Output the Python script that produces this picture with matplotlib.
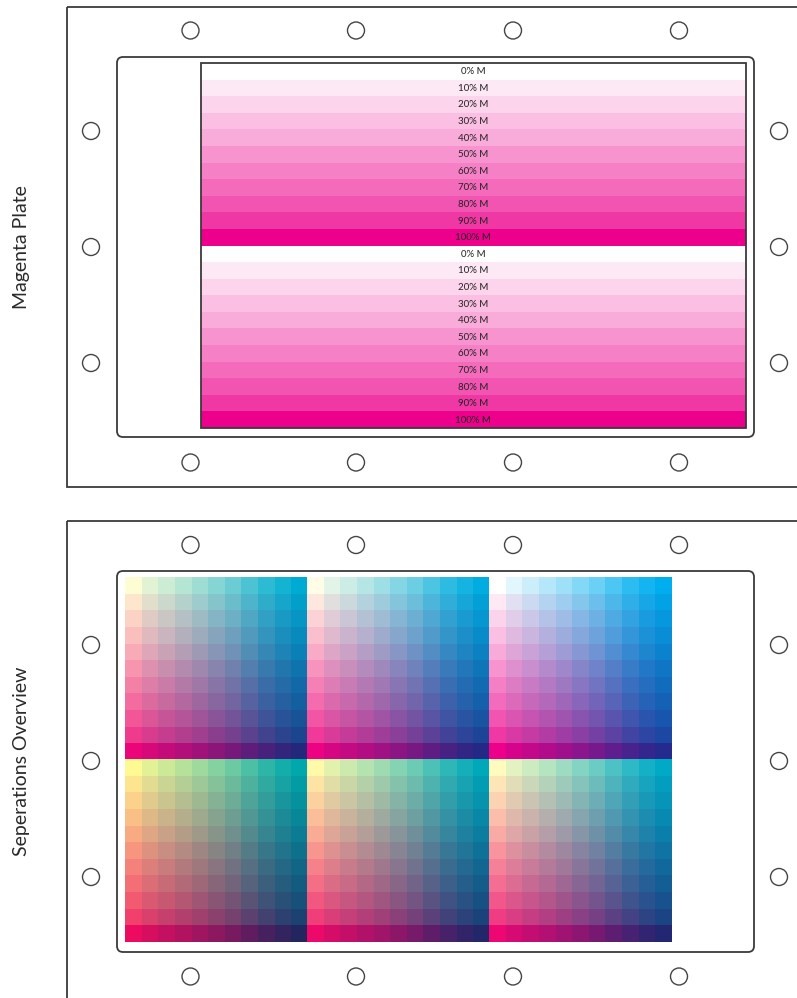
import numpy as np
import matplotlib.pyplot as plt
from matplotlib.patches import Rectangle, Circle, FancyBboxPatch

# --- data ---
plate_titles = ["Magenta Plate", "Seperations Overview"]
magenta_steps = [0, 10, 20, 30, 40, 50, 60, 70, 80, 90, 100]
stripe_labels = [f"{m}% M" for m in magenta_steps] * 2
cyan_steps = [0, 10, 20, 30, 40, 50, 60, 70, 80, 90, 100]
# yellow percentage of each overview block (top row, then bottom row)
block_yellow = [[20, 10, 0], [50, 40, 30]]

# printed tone response per ink (nominal % -> effective coverage)
tone_m = [0, 0.09, 0.17, 0.25, 0.33, 0.42, 0.50, 0.58, 0.67, 0.78, 1.0]
tone_c = [0, 0.11, 0.20, 0.29, 0.38, 0.48, 0.58, 0.70, 0.82, 0.92, 1.0]
tone_y = [0, 0.09, 0.17, 0.25, 0.33, 0.42, 0.50, 0.58, 0.67, 0.78, 1.0]

# Neugebauer primaries (sRGB of solid inks and overprints)
prim = {
    "W": (255, 255, 255), "C": (0, 174, 239), "M": (236, 0, 140), "Y": (255, 242, 0),
    "CM": (36, 42, 142), "CY": (0, 160, 80), "MY": (237, 28, 36), "CMY": (35, 31, 32),
}
steps = np.arange(0, 101, 10)


def cmy_to_rgb(c, m, y):
    c = np.interp(c, steps, tone_c)
    m = np.interp(m, steps, tone_m)
    y = np.interp(y, steps, tone_y)
    w = {
        "W": (1 - c) * (1 - m) * (1 - y), "C": c * (1 - m) * (1 - y),
        "M": m * (1 - c) * (1 - y), "Y": y * (1 - c) * (1 - m),
        "CM": c * m * (1 - y), "CY": c * y * (1 - m), "MY": m * y * (1 - c),
        "CMY": c * m * y,
    }
    rgb = sum(np.array(prim[k], float) * w[k] for k in w)
    return rgb / 255.0


line_col = "#3a3a3a"

fig = plt.figure(figsize=(7.97, 9.98), dpi=100)
ax = fig.add_axes([0, 0, 1, 1])

hole_x = [190.5, 356, 513, 679]
side_x = [91, 779]

panels = [
    dict(top=7, bottom=487, inner=(117, 57, 637, 380), holes_y=(30.5, 462.5),
         side_y=[131, 247, 363], title_y=247),
    dict(top=521, bottom=1100, inner=(117, 571, 637, 381), holes_y=(545, 976.5),
         side_y=[645, 761, 877], title_y=761),
]

for title, p in zip(plate_titles, panels):
    ax.add_patch(Rectangle((67, p["top"]), 820, p["bottom"] - p["top"], fill=False, ec=line_col, lw=1.3))
    x, y, w, h = p["inner"]
    ax.add_patch(FancyBboxPatch((x, y), w, h, boxstyle="round,pad=0,rounding_size=6",
                                fill=False, ec=line_col, lw=1.3))
    for hx in hole_x:
        for hy in p["holes_y"]:
            ax.add_patch(Circle((hx, hy), 8.5, fill=False, ec="#444444", lw=1.0))
    for sx in side_x:
        for sy in p["side_y"]:
            ax.add_patch(Circle((sx, sy), 8.5, fill=False, ec="#444444", lw=1.0))
    ax.text(22, p["title_y"], title, rotation=90, ha="center", va="center", fontsize=14,
            family="Lato", color="#2a2a2a")

# --- magenta plate stripes ---
sx0, sx1, sy0, sy1 = 201, 746, 63, 428
n = len(stripe_labels)
sh = (sy1 - sy0) / n
centers = sy0 + sh * (np.arange(n) + 0.5)
stripe_cols = [cmy_to_rgb(0, m, 0) for m in magenta_steps] * 2
ax.barh(centers, sx1 - sx0, height=sh, left=sx0, color=stripe_cols, edgecolor="none")
ax.add_patch(Rectangle((sx0, sy0), sx1 - sx0, sy1 - sy0, fill=False, ec=line_col, lw=1.3))
for cy, lab in zip(centers, stripe_labels):
    ax.text(473, cy + 0.5, lab, ha="center", va="center", fontsize=7, family="Lato", color="#222222")

# --- separations overview ---
gx0, gy0, cell = 125, 578, 16.55
for r, row in enumerate(block_yellow):
    for b, yv in enumerate(row):
        img = np.array([[cmy_to_rgb(c, m, yv) for c in cyan_steps] for m in magenta_steps])
        x0 = gx0 + b * 11 * cell
        y0 = gy0 + r * 11 * cell
        ax.imshow(img, extent=[x0, x0 + 11 * cell, y0 + 11 * cell, y0], origin="upper",
                  interpolation="nearest", aspect="auto")

ax.set_xlim(0, 797)
ax.set_ylim(998, 0)
ax.axis("off")
fig.savefig("out.png", dpi=100)
